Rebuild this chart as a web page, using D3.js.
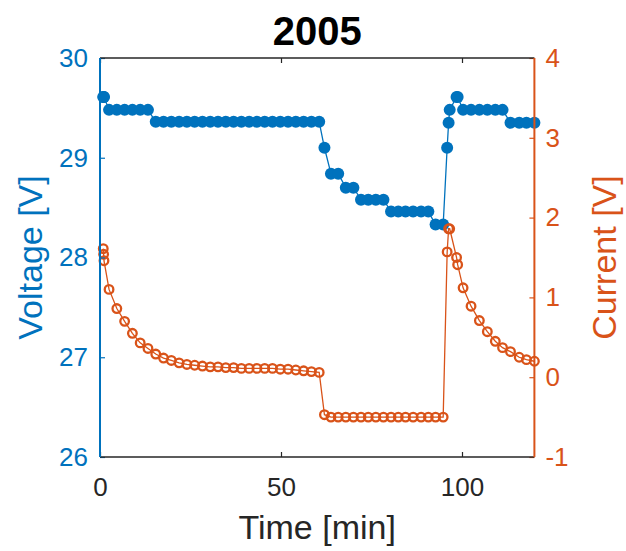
<!DOCTYPE html>
<html><head><meta charset="utf-8">
<script src="https://cdn.jsdelivr.net/npm/d3@7/dist/d3.min.js"></script>
<style>body{margin:0;background:#fff}svg{display:block;font-family:"Liberation Sans",Arial,sans-serif}</style>
</head><body><svg id="c" width="626" height="551"></svg>
<script>
const title = "2005";
const timeMin = [0.9,1.0,1.1,
 2.5,4.65,6.8,8.95,11.1,13.25,15.4,17.55,19.7,21.85,24.0,26.15,28.3,30.45,32.6,34.75,36.9,39.05,41.2,43.35,45.5,47.65,49.8,51.95,54.1,56.25,58.4,60.55,
 62.0,63.8,65.8,67.9,70.0,72.1,74.1,76.2,78.3,80.4,82.4,84.4,86.5,88.7,90.7,92.7,94.8,
 95.9,96.3,96.6,98.5,98.8,100.3,102.5,104.8,107.0,109.2,111.2,113.4,115.8,117.8,120.0];
const voltage = [29.61,29.61,29.61,
 29.48,29.48,29.48,29.48,29.48,29.48,29.36,29.36,29.36,29.36,29.36,29.36,29.36,29.36,29.36,29.36,29.36,29.36,29.36,29.36,29.36,29.36,29.36,29.36,29.36,29.36,29.36,29.36,
 29.10,28.84,28.84,28.70,28.70,28.58,28.58,28.58,28.58,28.46,28.46,28.46,28.46,28.46,28.46,28.33,28.33,
 29.10,29.35,29.48,29.61,29.61,29.48,29.48,29.48,29.48,29.48,29.48,29.35,29.35,29.35,29.35];
const current = [1.61,1.54,1.46,
 1.10,0.86,0.70,0.55,0.43,0.36,0.29,0.24,0.21,0.18,0.16,0.15,0.14,0.13,0.13,0.12,0.12,0.11,0.11,0.11,0.11,0.11,0.10,0.10,0.09,0.08,0.07,0.06,
 -0.47,-0.50,-0.50,-0.50,-0.50,-0.50,-0.50,-0.50,-0.50,-0.50,-0.50,-0.50,-0.50,-0.50,-0.50,-0.50,-0.50,
 1.57,1.86,1.86,1.50,1.41,1.12,0.89,0.71,0.57,0.45,0.37,0.32,0.25,0.22,0.20];
const xTicks = [0,50,100];
const vTicks = [26,27,28,29,30];
const iTicks = [-1,0,1,2,3,4];

const blue = "#0072BD", orange = "#D95319", gray = "#262626";
const L = 100, R = 534.4, T = 58, B = 457;
const svg = d3.select("#c");
const x = d3.scaleLinear().domain([0,120]).range([L,R]);
const yV = d3.scaleLinear().domain([26,30]).range([B,T]);
const yI = d3.scaleLinear().domain([-1,4]).range([B,T]);
const fmt = d => String(d);

svg.append("text").attr("x",(L+R)/2).attr("y",45).attr("text-anchor","middle")
  .attr("font-size",40).attr("font-weight","bold").attr("fill","#000").text(title);

const vData = timeMin.map((t,i)=>({t, v:voltage[i]}));
const iData = timeMin.map((t,i)=>({t, c:current[i]}));
svg.append("path").datum(vData).attr("fill","none").attr("stroke",blue).attr("stroke-width",1.3)
  .attr("d", d3.line().x(d=>x(d.t)).y(d=>yV(d.v)));
svg.selectAll(".vp").data(vData).join("circle").attr("class","vp")
  .attr("cx",d=>x(d.t)).attr("cy",d=>yV(d.v)).attr("r",6).attr("fill",blue);

svg.append("path").datum(iData).attr("fill","none").attr("stroke",orange).attr("stroke-width",1.3)
  .attr("d", d3.line().x(d=>x(d.t)).y(d=>yI(d.c)));
svg.selectAll(".ip").data(iData).join("circle").attr("class","ip")
  .attr("cx",d=>x(d.t)).attr("cy",d=>yI(d.c)).attr("r",4.3).attr("fill","none")
  .attr("stroke",orange).attr("stroke-width",2.3);

function styleAxis(g, color){
  g.select(".domain").remove();
  g.selectAll(".tick line").attr("stroke",color).attr("stroke-width",1.2);
  g.selectAll(".tick text").attr("fill",color).attr("font-size",26)
   .attr("font-family","Liberation Sans, Arial, sans-serif");
}
const gx = svg.append("g").attr("transform",`translate(0,${B})`)
  .call(d3.axisBottom(x).tickValues(xTicks).tickFormat(fmt).tickSizeInner(-5).tickSizeOuter(0).tickPadding(21));
styleAxis(gx, gray);
const gxt = svg.append("g").attr("transform",`translate(0,${T})`)
  .call(d3.axisTop(x).tickValues(xTicks).tickSizeInner(-5).tickSizeOuter(0).tickFormat(""));
styleAxis(gxt, gray);
const gl = svg.append("g").attr("transform",`translate(${L},0)`)
  .call(d3.axisLeft(yV).tickValues(vTicks).tickFormat(fmt).tickSizeInner(-5).tickSizeOuter(0).tickPadding(12));
styleAxis(gl, blue);
const gr = svg.append("g").attr("transform",`translate(${R},0)`)
  .call(d3.axisRight(yI).tickValues(iTicks).tickFormat(fmt).tickSizeInner(-5).tickSizeOuter(0).tickPadding(11));
styleAxis(gr, orange);

svg.append("line").attr("x1",L).attr("x2",R).attr("y1",T).attr("y2",T).attr("stroke",gray).attr("stroke-width",1.6);
svg.append("line").attr("x1",L).attr("x2",R).attr("y1",B).attr("y2",B).attr("stroke",gray).attr("stroke-width",1.6);
svg.append("line").attr("x1",L).attr("x2",L).attr("y1",T).attr("y2",B).attr("stroke",blue).attr("stroke-width",2);
svg.append("line").attr("x1",R).attr("x2",R).attr("y1",T).attr("y2",B).attr("stroke",orange).attr("stroke-width",2);

svg.append("text").attr("x",(L+R)/2).attr("y",539).attr("text-anchor","middle")
  .attr("font-size",34).attr("fill",gray).text("Time [min]");
svg.append("text").attr("transform",`translate(42,${(T+B)/2}) rotate(-90)`).attr("text-anchor","middle")
  .attr("font-size",34).attr("fill",blue).text("Voltage [V]");
svg.append("text").attr("transform",`translate(616,${(T+B)/2}) rotate(-90)`).attr("text-anchor","middle")
  .attr("font-size",34).attr("fill",orange).text("Current [V]");
</script></body></html>
